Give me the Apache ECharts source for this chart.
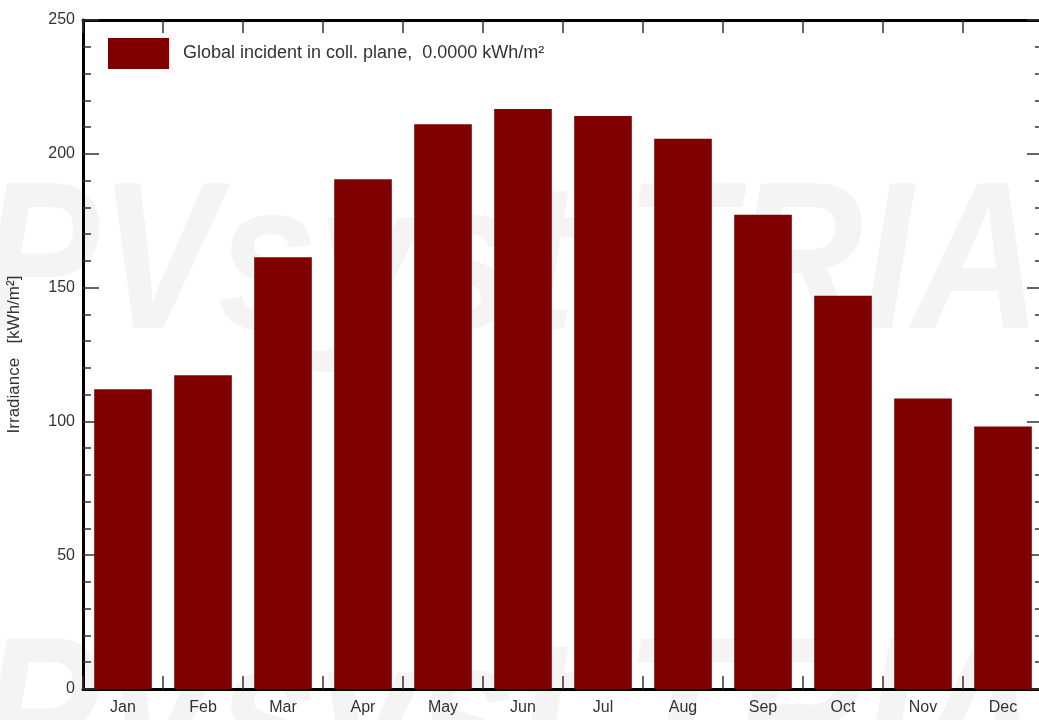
<!DOCTYPE html>
<html>
<head>
<meta charset="utf-8">
<title>Global incident in coll. plane</title>
<script src="https://cdn.jsdelivr.net/npm/echarts@6/dist/echarts.min.js"></script>
<style>
    html, body { margin: 0; padding: 0; background: #fff; }
    #chart { width: 1039px; height: 720px; }
</style>
</head>
<body>
<div id="chart"></div>
<script>
// monthly values
var months = ['Jan', 'Feb', 'Mar', 'Apr', 'May', 'Jun', 'Jul', 'Aug', 'Sep', 'Oct', 'Nov', 'Dec'];
var globalIncident = [112.0, 117.2, 161.3, 190.5, 211.0, 216.7, 214.1, 205.6, 177.2, 147.0, 108.6, 98.1];
var yMin = 0, yMax = 250, yStep = 50;
var legendLabel = 'Global incident in coll. plane,  0.0000 kWh/m\u00b2';
var yAxisTitle = 'Irradiance   [kWh/m\u00b2]';
var watermark = 'PVsyst TRIAL';

var fontFam = '"Liberation Sans", Arial, sans-serif';

function boxAxis(pos, showLabel) {
    return {
        type: 'category',
        data: months,
        position: pos,
        axisLine: { onZero: false, lineStyle: { color: '#000', width: 3 } },
        axisTick: { show: true, inside: true, length: 13, interval: 0, lineStyle: { color: '#333', width: 1.5 } },
        axisLabel: { show: showLabel, color: '#333', fontSize: 16, margin: 11, fontFamily: fontFam },
        splitLine: { show: false }
    };
}

function valueAxis(pos, showLabel) {
    return {
        type: 'value',
        position: pos,
        min: yMin,
        max: yMax,
        interval: yStep,
        axisLine: { show: true, onZero: false, lineStyle: { color: '#000', width: 3 } },
        axisTick: { show: true, inside: true, length: 16, lineStyle: { color: '#333', width: 1.5 } },
        minorTick: { show: true, splitNumber: 5, length: 8, lineStyle: { color: '#333', width: 1.5 } },
        splitLine: { show: false },
        axisLabel: { show: showLabel, color: '#333', fontSize: 16, margin: 8, fontFamily: fontFam }
    };
}

var yLeft = valueAxis('left', true);
yLeft.name = yAxisTitle;
yLeft.nameLocation = 'middle';
yLeft.nameGap = 60;
yLeft.nameTextStyle = { color: '#333', fontSize: 17, fontFamily: fontFam };

var option = {
    animation: false,
    backgroundColor: '#fff',
    grid: { left: 83, top: 20, width: 960, height: 669, outerBoundsMode: 'none' },
    graphic: [
        { type: 'text', left: -20, top: 165, z: 0, silent: true, scaleX: 0.85,
          style: { text: watermark, font: 'italic bold 210px ' + fontFam, fill: '#f4f4f4' } },
        { type: 'text', left: -20, top: 620, z: 0, silent: true, scaleX: 0.85,
          style: { text: watermark, font: 'italic bold 210px ' + fontFam, fill: '#f4f4f4' } }
    ],
    legend: {
        left: 108,
        top: 38,
        padding: 0,
        itemWidth: 61,
        itemHeight: 31,
        icon: 'rect',
        textStyle: { color: '#333', fontSize: 18, fontFamily: fontFam, padding: [0, 0, 0, 9] },
        data: [legendLabel]
    },
    xAxis: [boxAxis('bottom', true), boxAxis('top', false)],
    yAxis: [yLeft, valueAxis('right', false)],
    series: [{
        name: legendLabel,
        type: 'bar',
        xAxisIndex: 0,
        yAxisIndex: 0,
        z: 3,
        data: globalIncident,
        barWidth: '72%',
        itemStyle: { color: '#800000' }
    }]
};

var chart = echarts.init(document.getElementById('chart'));
chart.setOption(option);
</script>
</body>
</html>
